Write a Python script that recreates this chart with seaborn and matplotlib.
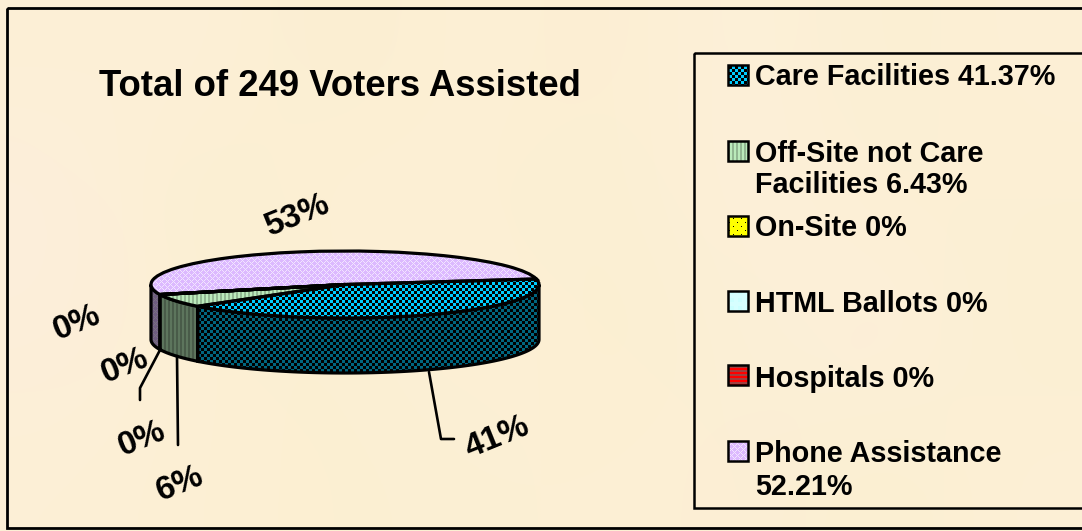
import numpy as np
import seaborn as sns
import matplotlib.pyplot as plt
from matplotlib.patches import Rectangle

W, H = 1082, 531

categories = ["Care Facilities", "Off-Site not Care Facilities", "On-Site", "HTML Ballots", "Hospitals", "Phone Assistance"]
shares = [41.37, 6.43, 0, 0, 0, 52.21]
slice_labels = ["41%", "6%", "0%", "0%", "0%", "53%"]
legend_lines = [
    ["Care Facilities 41.37%"],
    ["Off-Site not Care", "Facilities 6.43%"],
    ["On-Site 0%"],
    ["HTML Ballots 0%"],
    ["Hospitals 0%"],
    ["Phone Assistance", "52.21%"],
]
title = "Total of 249 Voters Assisted"

sns.set_theme(style="white")
plt.rcParams["font.family"] = ["Liberation Sans", "DejaVu Sans"]

top_colors = sns.color_palette(["#00CCFF", "#CCFFCC", "#FFFF00", "#CCFFFF", "#FF0000", "#CC99FF"])
paper_tints = [
    ["#FCEFD6", "#FDF0D8", "#FBEED0", "#FDF0D6", "#FCEED2", "#FDF1DA", "#FBEFD2", "#FDEFD6"],
    ["#FDEFDC", "#FBEFD0", "#FDF1D6", "#FCEED4", "#FBF0D2", "#FDEFDA", "#FCF0D4", "#FCEFD4"],
    ["#FDEEDA", "#FCF0D4", "#FBEFD2", "#FDF0D8", "#FCEFD0", "#FBF0D6", "#FDEEDC", "#FBF0D2"],
    ["#FCF0D6", "#FDEFD4", "#FCF0D2", "#FBEFD4", "#FDF0D4", "#FCEED6", "#FBF0D0", "#FDF0D6"],
]


def rgb(color):
    return np.array(plt.matplotlib.colors.to_rgb(color))


def make_texture(kind, base, shade=1.0):
    # one repeated pixel tile, laid over the whole figure and clipped later
    base = rgb(base) * shade
    if kind == "check":
        mask = np.kron(np.array([[1, 0], [0, 1]]), np.ones((3, 3)))
        tile = np.where(mask[..., None] > 0, base, np.zeros(3))
    elif kind == "stripe":
        light = base * 0.92
        dark = base * 0.72
        tile = np.stack([dark, dark, light, light], axis=0)[None, :, :]
    elif kind == "lattice":
        light = np.ones(3) * shade
        mask = np.array([[1, 0, 0, 0, 1, 0], [0, 1, 0, 1, 0, 0], [0, 0, 1, 0, 0, 0],
                         [0, 1, 0, 1, 0, 0], [1, 0, 0, 0, 1, 0], [0, 0, 0, 0, 0, 1]])
        tile = np.where(mask[..., None] > 0, base * 0.25 + light * 0.75, base * 0.68 + light * 0.32)
    elif kind == "bands":
        tile = np.stack([base, base, rgb("#A04040"), rgb("#A04040")], axis=0)[:, None, :]
    elif kind == "sparse":
        tile = np.tile(base, (8, 8, 1))
        tile[2, 5] = 0
        tile[6, 1] = 0
    else:
        tile = np.tile(base * 0.8 + 0.2, (8, 8, 1))
        tile[2:6, 2:6] = base
    ny = H // tile.shape[0] + 1
    nx = W // tile.shape[1] + 1
    return np.tile(tile, (ny, nx, 1))[:H, :W]


kinds = ["check", "stripe", "sparse", "soft", "bands", "lattice"]

fig = plt.figure(figsize=(W / 100, H / 100), dpi=100)

# background paper
bg_ax = fig.add_axes([0, 0, 1, 1])
paper = np.array([[rgb(c) for c in row] for row in paper_tints])
bg_ax.imshow(paper, aspect="auto", interpolation="bicubic", extent=(0, W, H, 0))
bg_ax.axis("off")

# pie axes: unit circle squeezed to the top ellipse, extra room below for the wall
left, right, top, bottom = 151, 539, 251, 318
depth_px = 55
depth = depth_px / ((bottom - top) / 2)
pie_ax = fig.add_axes([left / W, 1 - (bottom + depth_px) / H, (right - left) / W, (bottom - top + depth_px) / H])
pie_ax.patch.set_alpha(0)
pie_ax.set_zorder(1)

start_angle = 9.5
fractions = np.array(shares) / sum(shares)
ends = start_angle - np.cumsum(fractions) * 360
starts = np.r_[start_angle, ends[:-1]]
edge_lw = 2.3

for i in range(len(shares)):
    # only the front half of the cylinder shows a wall
    a = max(min(starts[i], 0), -180)
    b = max(min(ends[i], 0), -180)
    if ends[i] < -180:
        a, b = max(starts[i], -180), -180
    if a - b <= 0:
        continue
    t = np.radians(np.linspace(a, b, 120))
    xs = np.r_[np.cos(t), np.cos(t)[::-1]]
    ys = np.r_[np.sin(t), np.sin(t)[::-1] - depth]
    wall = pie_ax.fill(xs, ys, facecolor=top_colors[i], edgecolor="none", clip_on=False, zorder=1)[0]
    im = pie_ax.imshow(make_texture(kinds[i], top_colors[i], 0.5), transform=fig.transFigure,
                       extent=(0, 1, 0, 1), aspect="auto", interpolation="bilinear", zorder=1.5)
    im.set_clip_path(wall)
    pie_ax.fill(xs, ys, fill=False, edgecolor="black", lw=edge_lw, clip_on=False, zorder=2)

wedges, _ = pie_ax.pie(shares, colors=top_colors, startangle=start_angle, counterclock=False,
                       wedgeprops=dict(zorder=3, linewidth=0, clip_on=False))
for i, wedge in enumerate(wedges):
    if shares[i] == 0:
        continue
    im = pie_ax.imshow(make_texture(kinds[i], top_colors[i]), transform=fig.transFigure,
                       extent=(0, 1, 0, 1), aspect="auto", interpolation="bilinear", zorder=3.5)
    im.set_clip_path(wedge)
pie_ax.pie(shares, colors=top_colors, startangle=start_angle, counterclock=False,
           wedgeprops=dict(zorder=4, fill=False, edgecolor="black", linewidth=edge_lw, clip_on=False))
pie_ax.set_aspect("auto")
pie_ax.set_xlim(-1, 1)
pie_ax.set_ylim(-1 - depth, 1)
pie_ax.axis("off")

# overlay in pixel coordinates for frames, leaders and text
ax = fig.add_axes([0, 0, 1, 1])
ax.set_zorder(2)
ax.patch.set_alpha(0)
ax.set_xlim(0, W)
ax.set_ylim(H, 0)
ax.axis("off")

ax.add_patch(Rectangle((7, 8), W + 20, 520, fill=False, edgecolor="black", lw=2.0))
ax.add_patch(Rectangle((694, 53), W, 455, fill=False, edgecolor="black", lw=1.8))

ax.text(339.5, 87, title, ha="center", va="center", fontsize=26.3, fontweight="bold", color="black")

# leader lines
ax.plot([429, 441, 454], [372, 439, 439], color="black", lw=1.9)
ax.plot([177, 178], [356, 445], color="black", lw=1.9)
ax.plot([160, 140, 140], [350, 388, 400], color="black", lw=1.9)

label_xy = [(497, 438), (180, 484), (142, 439), (125, 366), (77, 323), (298, 216)]
for label, (x, y) in zip(slice_labels, label_xy):
    ax.text(x, y, label, ha="center", va="center", rotation=22, fontsize=24, fontweight="bold", color="black")

# legend
swatch_top = [65, 141, 216, 291, 365, 441]
text_rows = [[77], [154, 185], [228], [304], [379], [454, 487]]
for i, lines in enumerate(legend_lines):
    box = Rectangle((728, swatch_top[i]), 20, 20, facecolor=top_colors[i], edgecolor="none", zorder=0.5)
    ax.add_patch(box)
    im = ax.imshow(make_texture(kinds[i], top_colors[i]), extent=(0, W, H, 0), aspect="auto",
                   interpolation="bilinear", zorder=0.8)
    im.set_clip_path(box)
    ax.add_patch(Rectangle((728, swatch_top[i]), 20, 20, fill=False, edgecolor="black", lw=1.8))
    for line, y in zip(lines, text_rows[i]):
        ax.text(755, y, line, ha="left", va="center", fontsize=20.7, fontweight="bold", color="black")
ax.set_xlim(0, W)
ax.set_ylim(H, 0)

fig.savefig("out.png", dpi=100)
plt.close(fig)
